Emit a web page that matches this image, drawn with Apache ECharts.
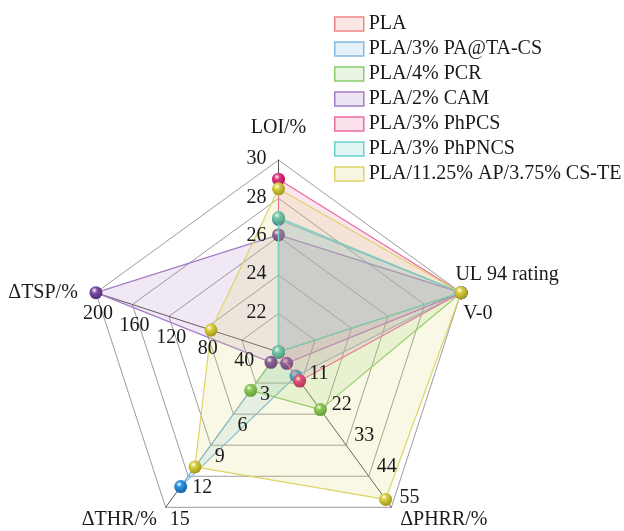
<!DOCTYPE html>
<html>
<head>
<meta charset="utf-8">
<script src="https://cdn.jsdelivr.net/npm/echarts@6/dist/echarts.min.js"></script>
<style>
  html, body { margin: 0; padding: 0; background: #fff; }
  #chart { width: 624px; height: 531px; }
</style>
</head>
<body>
<div id="chart"></div>
<script>
// Indicator axes, listed counter-clockwise from the top
const indicatorNames = ['LOI/%', 'ΔTSP/%', 'ΔTHR/%', 'ΔPHRR/%', 'UL 94 rating'];
const indicatorMin = [20, 0, 0, 0, 0];
const indicatorMax = [30, 200, 15, 55, 3];
const ul94Levels = ['NR', 'V-2', 'V-1', 'V-0'];

// Samples
const sampleNames = ['PLA', 'PLA/3% PA@TA-CS', 'PLA/4% PCR', 'PLA/2% CAM',
  'PLA/3% PhPCS', 'PLA/3% PhPNCS', 'PLA/11.25% AP/3.75% CS-TE'];
const loi  = [20, 26.9, 20, 26.1, 29.0, 27.0, 28.5];
const tsp  = [0, 0, 0, 200, 0, 0, 74];
const thr  = [0, 13.0, 3.7, 1.0, 0, 0, 11.1];
const phrr = [0, 8.5, 20.4, 4.0, 10.3, 0, 52.2];
const ul94 = ['NR', 'V-0', 'V-0', 'V-0', 'V-0', 'V-0', 'V-0'];

// Styling per sample
const lineColors = ['#ee8585', '#7fbbe3', '#88cf6c', '#a57cc6', '#ea6aa2', '#66d0cb', '#ddd466'];
const ballColors = ['#e86a6a', '#2f92e2', '#7cc55a', '#7c4fa6', '#e2357f', '#62c8bb', '#d8ce3e'];
const ballDark   = ['#a83a3a', '#11559a', '#3f8a25', '#462468', '#9c1048', '#2b8478', '#948a10'];
const AREA_OPACITY = 0.17;

const FONT = '"Liberation Serif", "Times New Roman", serif';
const TEXT = '#1a1a1a';
const CENTER = [278.5, 352];
const RADIUS = 192;

function ball(i) {
  return {
    type: 'radial', x: 0.38, y: 0.32, r: 0.8,
    colorStops: [
      { offset: 0, color: '#ffffff' },
      { offset: 0.28, color: ballColors[i] },
      { offset: 1, color: ballDark[i] }
    ]
  };
}

function fmtExceptMin(min) {
  return function (v) { return Math.abs(v - min) < 1e-9 ? '' : String(Math.round(v * 100) / 100); };
}

function baseIndicators() {
  return indicatorNames.map(function (name, k) {
    return { name: name, min: indicatorMin[k], max: indicatorMax[k] };
  });
}

// Text layer: axis names and tick labels drawn above the filled areas
const labelIndicators = baseIndicators();
// LOI: labels on the left of the axis
labelIndicators[0].nameGap = 22;
labelIndicators[0].axisLabel = { formatter: fmtExceptMin(indicatorMin[0]), margin: 12, verticalAlign: 'bottom', lineHeight: 2 };
// ΔTSP: labels under each ring vertex
labelIndicators[1].nameGap = 19;
labelIndicators[1].nameTextStyle = { verticalAlign: 'top', lineHeight: 12 };
labelIndicators[1].axisLabel = { formatter: fmtExceptMin(0), margin: 22, align: 'center', padding: [0, 0, 0, 18] };
// ΔTHR
labelIndicators[2].nameGap = 15;
labelIndicators[2].axisLabel = { formatter: fmtExceptMin(0), margin: 5, align: 'left', verticalAlign: 'top', lineHeight: 18 };
// ΔPHRR
labelIndicators[3].nameGap = 15;
labelIndicators[3].axisLabel = { formatter: fmtExceptMin(0), margin: 10, align: 'left', verticalAlign: 'bottom', lineHeight: 7 };
// UL 94: only the top rating is labelled
labelIndicators[4].nameGap = -6;
labelIndicators[4].nameTextStyle = { align: 'left', verticalAlign: 'bottom', lineHeight: 20, padding: [0, 0, 10, 0] };
labelIndicators[4].axisLabel = {
  margin: -22, align: 'center', padding: [0, 0, 0, 20],
  formatter: function (v) {
    return Math.abs(v - indicatorMax[4]) < 1e-6 ? ul94Levels[ul94Levels.length - 1] : '';
  }
};

const seriesData = sampleNames.map(function (name, i) {
  return {
    name: name,
    value: [loi[i], tsp[i], thr[i], phrr[i], ul94Levels.indexOf(ul94[i])],
    symbol: 'circle',
    symbolSize: 13,
    lineStyle: { color: lineColors[i], width: 1.2 },
    areaStyle: { color: lineColors[i], opacity: AREA_OPACITY },
    itemStyle: { color: ball(i) }
  };
});

const series = seriesData.map(function (d, i) {
  return {
    type: 'radar',
    name: d.name,
    radarIndex: 0,
    z: 2 + i,
    data: [d],
    emphasis: { disabled: true },
    animation: false
  };
});

const chart = echarts.init(document.getElementById('chart'), null, { renderer: 'canvas' });
chart.setOption({
  backgroundColor: '#fff',
  animation: false,
  legend: {
    orient: 'vertical',
    left: 334,
    top: 14,
    padding: 0,
    itemWidth: 29,
    itemHeight: 14,
    itemGap: 5,
    textStyle: { fontSize: 20, fontFamily: FONT, color: TEXT },
    data: sampleNames.map(function (n, i) {
      return {
        name: n,
        icon: 'rect',
        itemStyle: { color: echarts.color.modifyAlpha(lineColors[i], 0.2), borderColor: lineColors[i], borderWidth: 1.5 }
      };
    })
  },
  radar: [
    {
      // grid: rings and spokes
      center: CENTER,
      radius: RADIUS,
      startAngle: 90,
      splitNumber: 5,
      shape: 'polygon',
      z: 0,
      axisName: { show: false },
      splitLine: { lineStyle: { color: '#9c9c9c', width: 1 } },
      splitArea: { show: false },
      axisLine: { lineStyle: { color: '#555', width: 1 } },
      axisTick: { show: false },
      axisLabel: { show: false },
      indicator: baseIndicators()
    },
    {
      // text on top
      center: CENTER,
      radius: RADIUS,
      startAngle: 90,
      splitNumber: 5,
      shape: 'polygon',
      z: 20,
      axisName: { color: TEXT, fontSize: 20, fontFamily: FONT },
      nameGap: 15,
      splitLine: { show: false },
      splitArea: { show: false },
      axisLine: { show: false },
      axisTick: { show: false },
      axisLabel: { show: true, color: TEXT, fontSize: 20, fontFamily: FONT },
      indicator: labelIndicators
    }
  ],
  series: series
});
</script>
</body>
</html>
